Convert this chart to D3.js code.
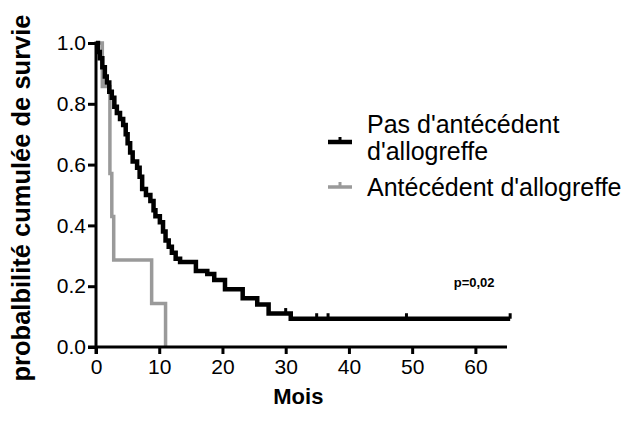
<!DOCTYPE html>
<html><head><meta charset="utf-8">
<script src="https://cdn.jsdelivr.net/npm/d3@7"></script>
<style>body{margin:0;background:#fff}svg{display:block}text{font-family:"Liberation Sans",Arial,sans-serif}</style>
</head><body>
<svg id="c" width="643" height="435"></svg>
<script>
const xTicks=[0,10,20,30,40,50,60];
const yTicks=[0,0.2,0.4,0.6,0.8,1.0];
const yTickLabels=["0.0","0.2","0.4","0.6","0.8","1.0"];
const seriesNames=["Pas d'antécédent\nd'allogreffe","Antécédent d'allogreffe"];
const blackTimes=[0,0.3,0.6,1.0,1.4,1.7,2.1,2.5,2.9,3.3,3.8,4.3,4.7,5.0,5.4,5.8,6.5,6.9,7.3,7.9,8.6,9.1,9.4,10.1,10.6,11.0,11.5,12.0,12.6,13.3,15.8,17.6,18.7,20.4,23.2,25.5,27.3,30.8];
const blackSurv=[1.0,0.97,0.95,0.92,0.89,0.87,0.84,0.82,0.79,0.77,0.75,0.73,0.70,0.67,0.64,0.61,0.59,0.56,0.52,0.50,0.48,0.45,0.43,0.41,0.38,0.35,0.33,0.31,0.29,0.28,0.25,0.24,0.22,0.19,0.16,0.14,0.11,0.093];
const blackEnd=65.5;
const blackCensor=[30.0,34.9,36.7,49.1,65.5];
const grayTimes=[0,1.0,2.2,2.5,2.8,8.8,11.0];
const graySurv=[1,0.857,0.571,0.429,0.286,0.143,0];
const grayEnd=11.0;
const pText="p=0,02";
const xTitle="Mois";
const yTitle="probalbilité cumulée de survie";

const svg=d3.select("#c");
const x=d3.scaleLinear().domain([0,65]).range([96,507]);
const y=d3.scaleLinear().domain([0,1]).range([347,43]);

function stepData(t,s,end){const d=t.map((v,i)=>[v,s[i]]);if(end>t[t.length-1])d.push([end,s[s.length-1]]);return d;}
const line=d3.line().x(d=>x(d[0])).y(d=>y(d[1])).curve(d3.curveStepAfter);
function survAt(t,s,tt){let v=s[0];for(let i=0;i<t.length;i++){if(t[i]<=tt)v=s[i];}return v;}

// gray
svg.append("path").attr("d",line(stepData(grayTimes,graySurv,grayEnd))).attr("fill","none").attr("stroke","#9a9a9a").attr("stroke-width",3.5);
// black
svg.append("path").attr("d",line(stepData(blackTimes,blackSurv,blackEnd))).attr("fill","none").attr("stroke","#000").attr("stroke-width",4.5);
svg.selectAll(".cb").data(blackCensor).join("line").attr("x1",d=>x(d)).attr("x2",d=>x(d)).attr("y1",d=>y(survAt(blackTimes,blackSurv,d))).attr("y2",d=>y(survAt(blackTimes,blackSurv,d))-5.5).attr("stroke","#000").attr("stroke-width",3);

// axes
const gx=svg.append("g").attr("transform","translate(0,347)").call(d3.axisBottom(x).tickValues(xTicks).tickSize(7).tickPadding(5).tickSizeOuter(0));
gx.select(".domain").attr("d",`M${x(0)-8},0H${x(65)}`).attr("stroke","#000").attr("stroke-width",3);
gx.selectAll(".tick line").attr("stroke","#000").attr("stroke-width",3);
gx.selectAll(".tick text").attr("font-size",21).attr("fill","#000").attr("font-family","Liberation Sans, Arial, sans-serif");
const gy=svg.append("g").attr("transform","translate(96,0)").call(d3.axisLeft(y).tickValues(yTicks).tickFormat((d,i)=>yTickLabels[i]).tickSize(8).tickPadding(2).tickSizeOuter(0));
gy.select(".domain").attr("d",`M0,${y(1)-1.5}V${y(0)+7}`).attr("stroke","#000").attr("stroke-width",3);
gy.selectAll(".tick line").attr("stroke","#000").attr("stroke-width",3);
gy.selectAll(".tick text").attr("font-size",21).attr("fill","#000").attr("font-family","Liberation Sans, Arial, sans-serif");

// titles
svg.append("text").attr("x",x(32)).attr("y",404).attr("text-anchor","middle").attr("font-weight","bold").attr("font-size",22).text(xTitle);
svg.append("text").attr("transform","translate(30,198) rotate(-90)").attr("text-anchor","middle").attr("font-weight","bold").attr("font-size",25.5).text(yTitle);
svg.append("text").attr("x",x(59.8)).attr("y",287).attr("text-anchor","middle").attr("font-weight","bold").attr("font-size",13).text(pText);

// legend
const lg=svg.append("g");
const legendItems=[{name:seriesNames[0],color:"#000",w:4.5,ly:142,ty:[133,160]},{name:seriesNames[1],color:"#9a9a9a",w:3.5,ly:187,ty:[196]}];
legendItems.forEach(it=>{
  lg.append("line").attr("x1",328).attr("x2",352).attr("y1",it.ly).attr("y2",it.ly).attr("stroke",it.color).attr("stroke-width",it.w);
  lg.append("line").attr("x1",340).attr("x2",340).attr("y1",it.ly).attr("y2",it.ly-5).attr("stroke",it.color).attr("stroke-width",3);
  it.name.split("\n").forEach((s,i)=>lg.append("text").attr("x",367).attr("y",it.ty[i]).attr("font-size",25).attr("fill","#000").text(s));
});
</script>
</body></html>
